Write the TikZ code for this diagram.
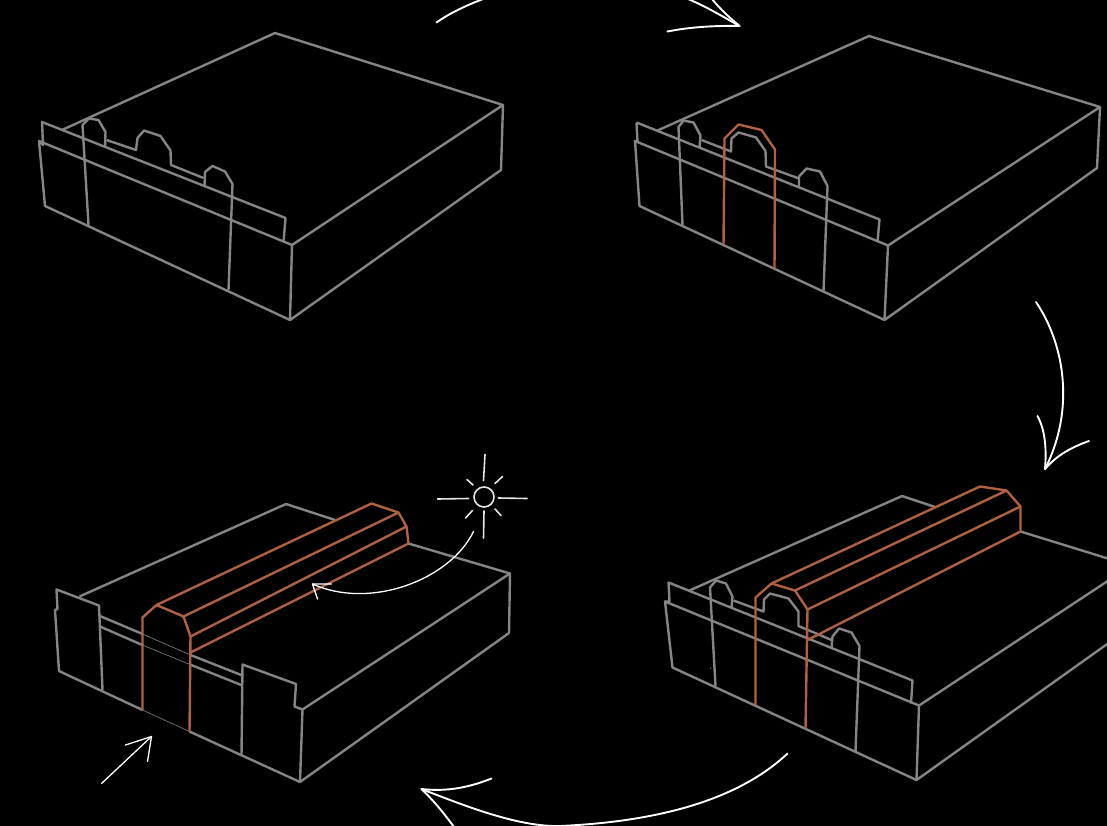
\documentclass[tikz,border=0pt]{standalone}
\usepackage{xcolor}
\usepackage{tikz}
\definecolor{wallgray}{HTML}{858585}
\definecolor{rooforange}{HTML}{B0613F}
\begin{document}
\begin{tikzpicture}[
    x=1pt, y=-1pt,
    wall/.style={draw=wallgray, line width=2.4pt, line join=round},
    roof/.style={draw=rooforange, line width=2.4pt, line join=round},
    faint/.style={draw=wallgray, line width=0.6pt},
    sketch/.style={draw=white, line width=1.9pt, line cap=round, line join=round},
    thinsketch/.style={draw=white, line width=1.3pt, line cap=round, line join=round},
    ray/.style={draw=white!90!black, line width=1.6pt, line cap=round},
  ]
  \useasboundingbox (0,0) rectangle (1107,826);
  \fill[black] (0,0) rectangle (1107,826);
  \clip (0,0) rectangle (1107,826);

  % ---- Block 1, top left ----
  \draw[wall] (62,130) -- (275,33) -- (503,105) -- (292,245);
  \draw[wall] (503,105) -- (501,170) -- (290,320) -- (292,245) -- (39,141) -- (45,206) -- (290,320);
  \draw[wall] (39,141) -- (43,145) -- (42,122) -- (285.5,218) -- (283.5,242);
  \draw[wall] (88.5,225) -- (82.5,125) -- (89,118.5) -- (98.5,120) -- (105.5,132) -- (105,147);
  \draw[wall] (106.5,140) -- (136,150) -- (137.5,138) -- (144,130.5) -- (160.5,136) -- (170.5,150.5) -- (171,165) -- (203.5,178);
  \draw[wall] (204.5,186) -- (205,172) -- (212.5,166) -- (225,171.5) -- (232.5,184) -- (228.5,290);

  % ---- Block 2, top right ----
  \draw[wall] (657.5,130.5) -- (869,36) -- (1100,107) -- (888,245.5);
  \draw[wall] (1100,107) -- (1097,168) -- (884.5,320) -- (888,245.5) -- (635,141) -- (639.5,206) -- (884.5,320);
  \draw[wall] (636.5,122.5) -- (637.5,142);
  \draw[wall] (636.5,122.5) -- (879.5,219.5) -- (877.5,242);
  \draw[wall] (682.5,225) -- (678.5,127) -- (683.5,120.5) -- (693.5,122.5) -- (700.5,135.5) -- (699.5,147.5);
  \draw[wall] (701.5,140) -- (731,151.5) -- (731.5,138.5) -- (738.5,132.5) -- (756,137.5) -- (765.5,151) -- (766,166.5) -- (799,178.5);
  \draw[wall] (799,187.5) -- (799,176.5) -- (806.5,168.5) -- (820,171.5) -- (827.5,186) -- (823.5,291);
  \draw[roof] (723.5,245) -- (724.5,138.5) -- (738.5,124.5) -- (761.5,130) -- (775,149.5) -- (774.5,269);

  % ---- Block 3, lower right ----
  \draw[wall] (689.5,590.5) -- (902,496) -- (936.5,507.5);
  \draw[wall] (1020.5,531.5) -- (1110,559.2);
  \draw[wall] (1110,579.5) -- (919,705.5) -- (916.5,780) -- (1110,642);
  \draw[wall] (919,705.5) -- (665,601.5) -- (672.5,667.5) -- (916.5,780);
  \draw[wall] (665,601.5) -- (669.5,601.5) -- (668.5,582.5) -- (912.5,680.5) -- (911,703.5);
  \draw[wall] (715.5,686) -- (710,587.5) -- (716,580.5) -- (726,583.5) -- (732.5,596.5) -- (731.5,607.5);
  \draw[wall] (733.5,600.5) -- (763.5,611.5) -- (764,599.5) -- (770,593.5) -- (788.5,598.5) -- (798.5,611.5) -- (798.5,626) -- (831.5,640);
  \draw[wall] (831.5,648.5) -- (832.5,636.5) -- (839,628.5) -- (851.5,632.5) -- (859.5,646) -- (855.5,751.5);
  \fill[wallgray] (710.7,668.3) circle (0.6pt);
  \draw[roof] (755.5,705) -- (755.5,597.5) -- (771.5,583.5) -- (795,590.5) -- (807.5,609.5) -- (805.5,728.5);
  \draw[roof] (771.5,583.5) -- (980,486.5) -- (1006.5,490.5) -- (1020.5,506.5) -- (1020.5,531.5) -- (807.5,640);
  \draw[roof] (795,590.5) -- (1006.5,490.5);
  \draw[roof] (807.5,609.5) -- (1020.5,506.5);

  % ---- Block 4, lower left ----
  \draw[wall] (79.5,596.5) -- (286,504) -- (335,520);
  \draw[wall] (408.5,543.5) -- (510,573.5) -- (302.5,709.5) -- (300,782);
  \draw[wall] (510,573.5) -- (509,633) -- (300,782) -- (189.5,731.5);
  \draw[wall] (142.5,710) -- (59,671) -- (55,610) -- (57.5,609) -- (56.5,589.5) -- (99,605.5) -- (102.5,690);
  \draw[wall] (100,616) -- (142.5,634);
  \draw[wall] (190.5,655) -- (242.5,675.5);
  \draw[wall] (100,626.5) -- (143.5,645.5);
  \draw[wall] (190,664.5) -- (242.5,685.5);
  \draw[wall] (241.5,755.5) -- (242.5,664.5) -- (296,684) -- (294.5,706.5) -- (302.5,709.5);
  \draw[faint] (142.5,634) -- (190.5,655);
  \draw[faint] (143.5,645.5) -- (190,664.5);
  \draw[faint] (142.5,710) -- (189.5,731.5);
  \draw[roof] (142.5,710) -- (142.5,617.5) -- (156.5,605) -- (183.5,616.5) -- (190.5,636.5) -- (189.5,731.5);
  \draw[roof] (156.5,605) -- (371.5,503.5) -- (398.5,512.5) -- (406.5,526.5) -- (408.5,543.5) -- (190.5,652.5);
  \draw[roof] (183.5,616.5) -- (398.5,512.5);
  \draw[roof] (190.5,636.5) -- (406.5,526.5);

  % ---- Sun ----
  \draw[ray] (484,497) circle (10pt);
  \draw[ray] (485,454.5) -- (483.5,480.5);
  \draw[ray] (484,511) -- (483.5,538);
  \draw[ray] (437.5,499) -- (468.5,498.5);
  \draw[ray] (498.5,498) -- (527,498.5);
  \draw[ray] (495,483.5) -- (502.5,476.5);
  \draw[ray] (473,485) -- (467,479.5);
  \draw[ray] (472.5,510.5) -- (465.5,518);
  \draw[ray] (495,509) -- (501,515.5);

  % ---- Sun arrow ----
  \draw[thinsketch] (473.5,531.5) .. controls (450,580) and (370,610) .. (312.5,584);
  \draw[thinsketch] (331.5,584) -- (312.5,584) -- (317.5,599);

  % ---- Entry arrow ----
  \draw[thinsketch] (101.5,783.5) -- (151.5,736.5);
  \draw[thinsketch] (125.5,745) -- (151.5,736.5) -- (147.5,761.5);

  % ---- Cycle arrows ----
  \draw[sketch] (436.5,22.5) .. controls (450,13) and (465,6) .. (483,-1);
  \draw[sketch] (688,-1) .. controls (705,6) and (722,16) .. (739.5,26);
  \draw[sketch] (712,-1) .. controls (720,9) and (730,18) .. (739.5,26);
  \draw[sketch] (667.5,31.5) .. controls (690,27) and (715,25.5) .. (739.5,26);

  \draw[sketch] (1036,302) .. controls (1065,345) and (1075,410) .. (1045,469);
  \draw[sketch] (1037.5,416) .. controls (1044,428) and (1047,445) .. (1045,469);
  \draw[sketch] (1089,441) .. controls (1072,447) and (1057,455) .. (1045,469);

  \draw[sketch] (787.5,753.5) .. controls (735,803) and (650,822) .. (560,826) .. controls (520,827) and (470,808) .. (421.5,789);
  \draw[sketch] (491.5,778.5) .. controls (470,787) and (448,792) .. (421.5,789);
  \draw[sketch] (421.5,789) .. controls (433,800) and (443,812) .. (454,827);

\end{tikzpicture}
\end{document}
